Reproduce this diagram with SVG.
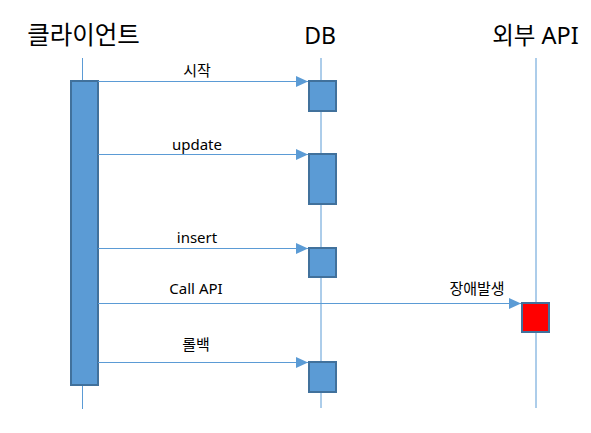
<svg xmlns="http://www.w3.org/2000/svg" width="591" height="433" viewBox="0 0 591 433">
<defs>
<style>
.life{stroke:#5B9BD5;stroke-width:1;fill:none}
.act{fill:#5B9BD5;stroke:#41719C;stroke-width:2}
.err{fill:#FF0000;stroke:#41719C;stroke-width:2}
.msg{stroke:#5B9BD5;stroke-width:1;fill:none;marker-end:url(#ah)}
.title{font-family:"Noto Sans","Noto Sans CJK KR",sans-serif;font-size:23px;fill:#000;text-anchor:middle}
.lbl{font-family:"Noto Sans","Noto Sans CJK KR",sans-serif;font-size:15px;fill:#000;text-anchor:middle}
</style>
<marker id="ah" markerWidth="12" markerHeight="11" refX="12" refY="5.5" orient="auto" markerUnits="userSpaceOnUse">
<path d="M0,0 L12,5.5 L0,11 Z" fill="#5B9BD5"/>
</marker>
</defs>
<rect width="591" height="433" fill="#fff"/>
<g id="client">
<text class="title" x="83.5" y="44" style="font-size:24.5px">클라이언트</text>
<line class="life" x1="82.5" y1="58" x2="82.5" y2="409"/>
<rect class="act" x="71" y="81" width="27" height="304"/>
</g>
<g id="db">
<text class="title" x="320" y="44">DB</text>
<line class="life" x1="321" y1="58" x2="321" y2="408"/>
<rect class="act" x="309" y="81" width="27" height="30"/>
<rect class="act" x="309" y="154" width="27" height="50"/>
<rect class="act" x="309" y="248" width="27" height="29"/>
<rect class="act" x="309" y="362" width="27" height="30"/>
</g>
<g id="api">
<text class="title" x="535.5" y="44" style="font-size:23.5px">외부 API</text>
<line class="life" x1="536" y1="58" x2="536" y2="408"/>
<rect class="err" x="522" y="303" width="27" height="29"/>
</g>
<g id="connectors">
<line class="msg" x1="98" y1="81.5" x2="308" y2="81.5"/>
<line class="msg" x1="98" y1="154.5" x2="308" y2="154.5"/>
<line class="msg" x1="98" y1="248.5" x2="308" y2="248.5"/>
<line class="msg" x1="98" y1="303.5" x2="521" y2="303.5"/>
<line class="msg" x1="98" y1="362.5" x2="308" y2="362.5"/>
</g>
<g id="labels">
<text class="lbl" x="197" y="76">시작</text>
<text class="lbl" x="197" y="150">update</text>
<text class="lbl" x="197" y="243">insert</text>
<text class="lbl" x="196" y="294">Call API</text>
<text class="lbl" x="477" y="294">장애발생</text>
<text class="lbl" x="196" y="350">롤백</text>
</g>
</svg>
